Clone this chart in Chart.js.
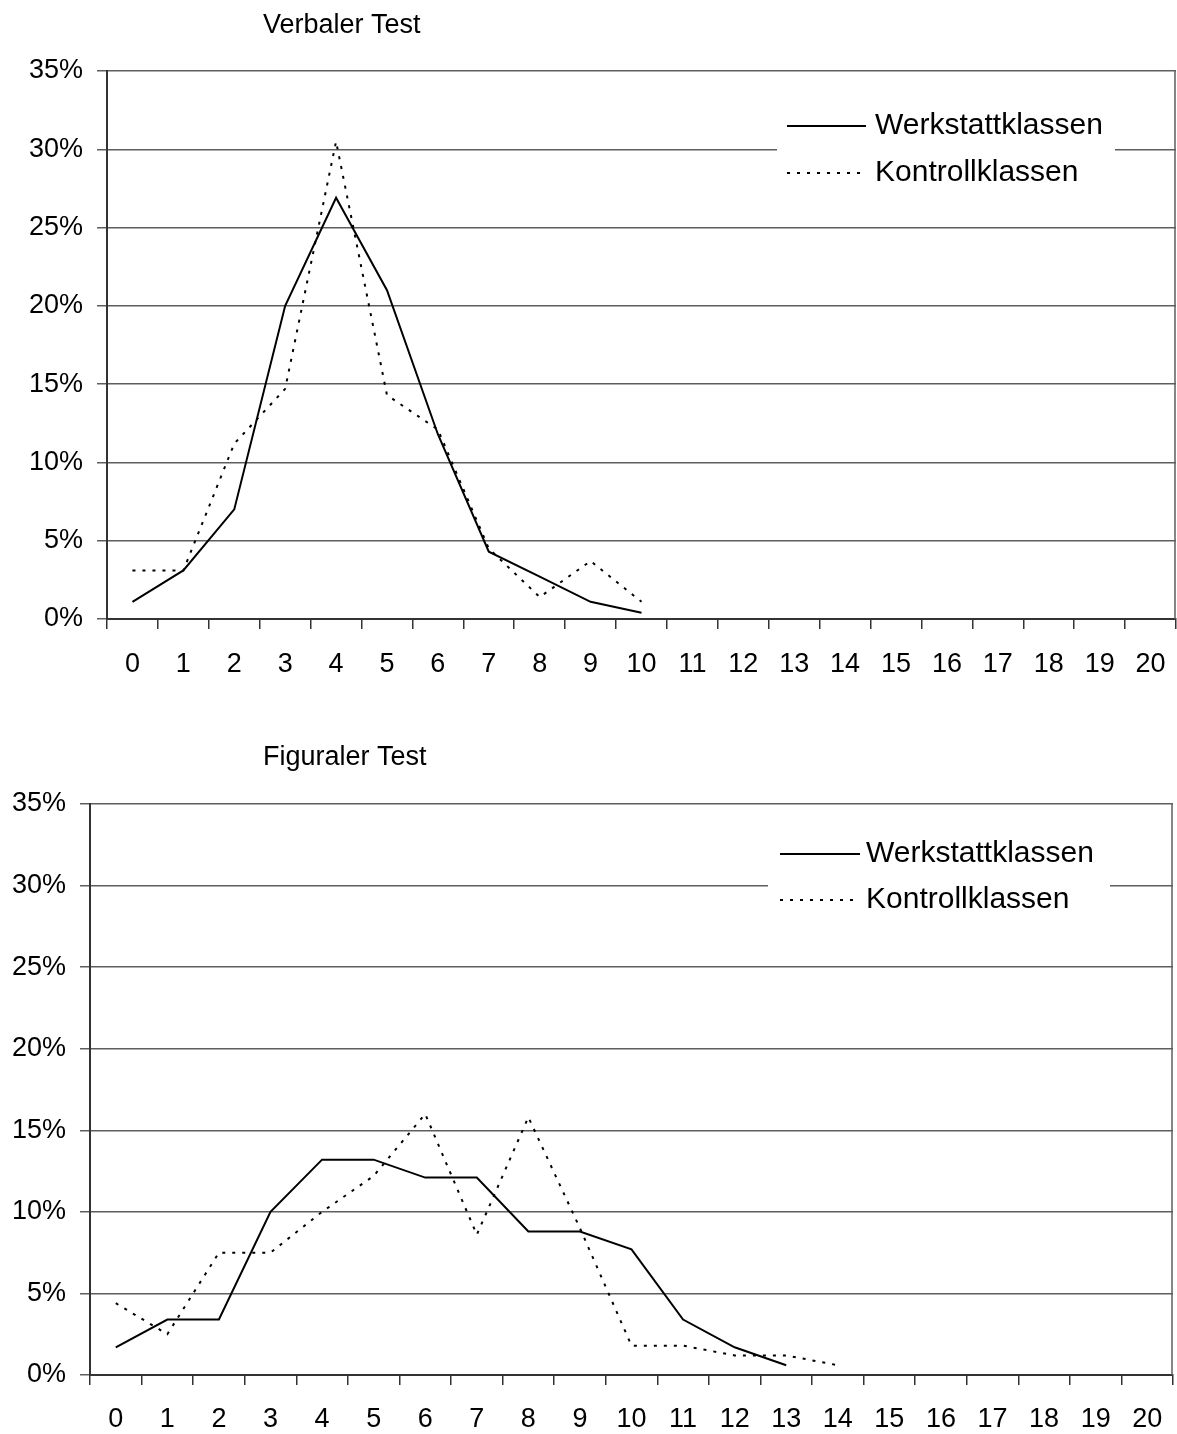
<!DOCTYPE html>
<html>
<head>
<meta charset="utf-8">
<script src="https://cdn.jsdelivr.net/npm/chart.js@4.4.1/dist/chart.umd.min.js"></script>
<style>
  html, body { margin: 0; padding: 0; background: #fff; }
  body { width: 1177px; height: 1434px; position: relative; overflow: hidden; }
  canvas { position: absolute; left: 0; }
  #verbal { top: 0; }
  #figural { top: 734px; }
</style>
</head>
<body>
<canvas id="verbal" width="1177" height="700"></canvas>
<canvas id="figural" width="1177" height="700"></canvas>
<script>
// Anteile in Prozent je Punktzahl
const categories = ['0', '1', '2', '3', '4', '5', '6', '7', '8', '9', '10',
  '11', '12', '13', '14', '15', '16', '17', '18', '19', '20'];
const yTicks = [0, 5, 10, 15, 20, 25, 30, 35];

const verbalWerkstatt = [1.1, 3.1, 7.0, 20.0, 26.9, 21.0, 11.8, 4.3, 2.7, 1.1, 0.4];
const verbalKontroll = [3.1, 3.1, 11.2, 14.7, 30.5, 14.3, 12.1, 4.5, 1.4, 3.7, 1.1];

const figuralWerkstatt = [1.7, 3.4, 3.4, 10.0, 13.2, 13.2, 12.1, 12.1, 8.8, 8.8, 7.7, 3.4, 1.7, 0.6];
const figuralKontroll = [4.4, 2.5, 7.5, 7.5, 10.0, 12.2, 16.0, 8.6, 15.8, 9.0, 1.8, 1.8, 1.2, 1.2, 0.6];

const FONT = '"Liberation Sans", Arial, sans-serif';
const GRID = '#5e5e5e';
const AXIS = '#333333';

// title, right frame line and the white legend box sitting on the plot
const sheetDecor = {
  id: 'sheetDecor',
  afterDraw(chart, args, opts) {
    const { ctx, chartArea: area } = chart;
    ctx.save();
    ctx.strokeStyle = GRID;
    ctx.lineWidth = 1.5;
    ctx.beginPath();
    ctx.moveTo(area.right - 1, area.top);
    ctx.lineTo(area.right - 1, area.bottom);
    ctx.stroke();

    ctx.fillStyle = '#000';
    ctx.textAlign = 'left';
    ctx.textBaseline = 'middle';
    ctx.font = '27px ' + FONT;
    ctx.fillText(opts.title, opts.titleX, opts.titleY);

    const lx = area.right - opts.legendFromRight;
    ctx.fillStyle = '#fff';
    ctx.fillRect(lx, area.top + opts.rowY[0] - 26, opts.legendWidth, opts.rowY[1] - opts.rowY[0] + 52);
    ctx.font = '30px ' + FONT;
    chart.data.datasets.forEach((ds, i) => {
      const y = area.top + opts.rowY[i];
      ctx.strokeStyle = ds.borderColor;
      ctx.lineWidth = ds.borderWidth;
      ctx.setLineDash(ds.borderDash || []);
      ctx.beginPath();
      ctx.moveTo(lx + opts.sampleStart, y);
      ctx.lineTo(lx + opts.sampleStart + opts.sampleLen, y);
      ctx.stroke();
      ctx.setLineDash([]);
      ctx.fillStyle = '#000';
      ctx.fillText(ds.label, lx + opts.textStart, y);
    });
    ctx.restore();
  }
};

function makeChart(id, werkstatt, kontroll, lay) {
  return new Chart(document.getElementById(id), {
    type: 'line',
    data: {
      labels: categories,
      datasets: [
        { label: 'Werkstattklassen', data: werkstatt, borderColor: '#000', borderWidth: 2, pointRadius: 0, tension: 0 },
        { label: 'Kontrollklassen', data: kontroll, borderColor: '#000', borderWidth: 2, borderDash: [3, 7], pointRadius: 0, tension: 0 }
      ]
    },
    options: {
      responsive: false,
      animation: false,
      devicePixelRatio: 1,
      layout: { padding: { top: lay.top, right: lay.right, bottom: 0, left: 0 } },
      plugins: {
        legend: { display: false },
        title: { display: false },
        tooltip: { enabled: false },
        sheetDecor: lay.decor
      },
      scales: {
        x: {
          offset: true,
          grid: { offset: true, drawOnChartArea: false, tickLength: 10, color: AXIS, lineWidth: 1.5 },
          border: { color: AXIS, width: 2 },
          ticks: { color: '#000', padding: lay.xPad, maxRotation: 0, autoSkip: false, font: { family: FONT, size: 27 } },
          afterFit(s) { s.height = lay.xHeight; s.paddingLeft = 0; s.paddingRight = 0; }
        },
        y: {
          min: 0,
          max: 35,
          afterBuildTicks(s) { s.ticks = yTicks.map(v => ({ value: v })); },
          grid: { color: GRID, lineWidth: 1.5, tickLength: 10 },
          border: { color: AXIS, width: 2 },
          ticks: { color: '#000', padding: 14, font: { family: FONT, size: 27 }, callback: v => v + '%' },
          afterFit(s) { s.width = lay.yWidth; s.paddingTop = 0; s.paddingBottom = 0; }
        }
      }
    },
    plugins: [sheetDecor]
  });
}

makeChart('verbal', verbalWerkstatt, verbalKontroll, {
  top: 71, right: 1, xHeight: 81, yWidth: 107, xPad: 19,
  decor: {
    title: 'Verbaler Test', titleX: 263, titleY: 26,
    legendFromRight: 399, legendWidth: 338, rowY: [55, 102],
    sampleStart: 10, sampleLen: 79, textStart: 98
  }
});

makeChart('figural', figuralWerkstatt, figuralKontroll, {
  top: 70, right: 4, xHeight: 59, yWidth: 90, xPad: 18,
  decor: {
    title: 'Figuraler Test', titleX: 263, titleY: 24,
    legendFromRight: 405, legendWidth: 342, rowY: [50, 96],
    sampleStart: 12, sampleLen: 80, textStart: 98
  }
});
</script>
</body>
</html>
